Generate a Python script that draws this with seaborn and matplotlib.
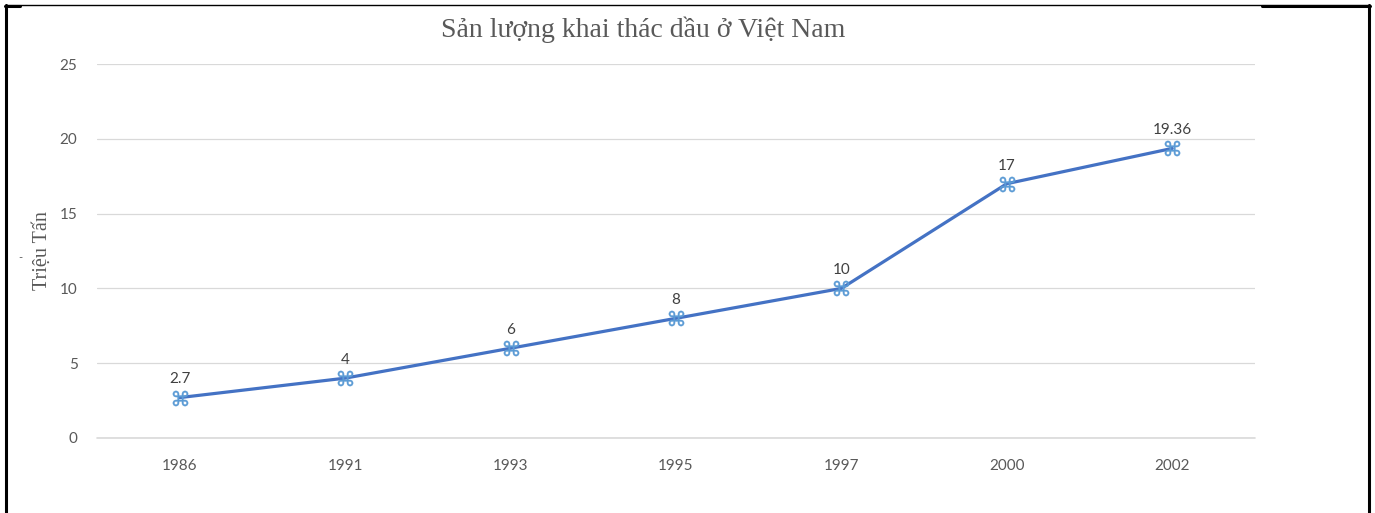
import pandas as pd
import matplotlib.pyplot as plt
import seaborn as sns
from matplotlib.lines import Line2D

# Dữ liệu
nam = ["1986", "1991", "1993", "1995", "1997", "2000", "2002"]
san_luong = [2.7, 4, 6, 8, 10, 17, 19.36]
nhan = ["2.7", "4", "6", "8", "10", "17", "19.36"]

df = pd.DataFrame({"Nam": nam, "SanLuong": san_luong})

sns.set_theme(style="white")
plt.rcParams['font.family'] = ['Lato', 'DejaVu Sans']

fig = plt.figure(figsize=(13.75, 5.13), dpi=100)
ax = fig.add_axes([0.0705, 0.1462, 0.8422, 0.729])

sns.lineplot(data=df, x="Nam", y="SanLuong", ax=ax, color="#4472C4",
             linewidth=2.3, sort=False)
ax.plot(df["Nam"], df["SanLuong"], linestyle="none", marker="$⌘$",
        markersize=11, color="#5B9BD5", markeredgewidth=0.3)

for i, (v, t) in enumerate(zip(san_luong, nhan)):
    ax.annotate(t, (i, v), xytext=(0, 8), textcoords="offset points",
                ha="center", va="bottom", fontsize=11, color="#404040")

ax.set_xlim(-0.5, 6.5)
ax.set_ylim(0, 25)
ax.set_yticks([0, 5, 10, 15, 20, 25])
ax.grid(axis="y", color="#D9D9D9", linewidth=0.9)
ax.axhline(0, color="#D9D9D9", linewidth=1.2, clip_on=False, zorder=0)
ax.set_axisbelow(True)
for s in ax.spines.values():
    s.set_visible(False)
ax.tick_params(axis="both", length=0, labelsize=11, colors="#595959")
ax.tick_params(axis="x", pad=15)
ax.tick_params(axis="y", pad=14)
ax.set_xlabel("")
ax.set_ylabel("Triệu Tấn", family=["Liberation Serif", "DejaVu Serif"],
              fontsize=14.5, color="#595959", labelpad=6)

fig.text(0.468, 0.942, "Sản lượng khai thác dầu ở Việt Nam",
         family=["Liberation Serif", "DejaVu Serif"], fontsize=20,
         color="#595959", ha="center", va="center")
fig.text(20 / 1375, 1 - 258 / 513, "-", fontsize=8, color="#595959",
         ha="center", va="center")

# Khung viền
W, H = 1375, 513
def px(x, y):
    return x / W, 1 - y / H
for (x0, y0, x1, y1, lw) in [(6, 5, 6, 513, 2.2), (1369, 5, 1369, 513, 2.2),
                              (5, 5, 1370, 5, 1.0), (5, 5.5, 20, 5.5, 2.2),
                              (1262, 5.5, 1370, 5.5, 2.2)]:
    a, b = px(x0, y0)
    c, d = px(x1, y1)
    fig.add_artist(Line2D([a, c], [b, d], color="black", linewidth=lw,
                          transform=fig.transFigure))

plt.savefig("out.png", dpi=100)
